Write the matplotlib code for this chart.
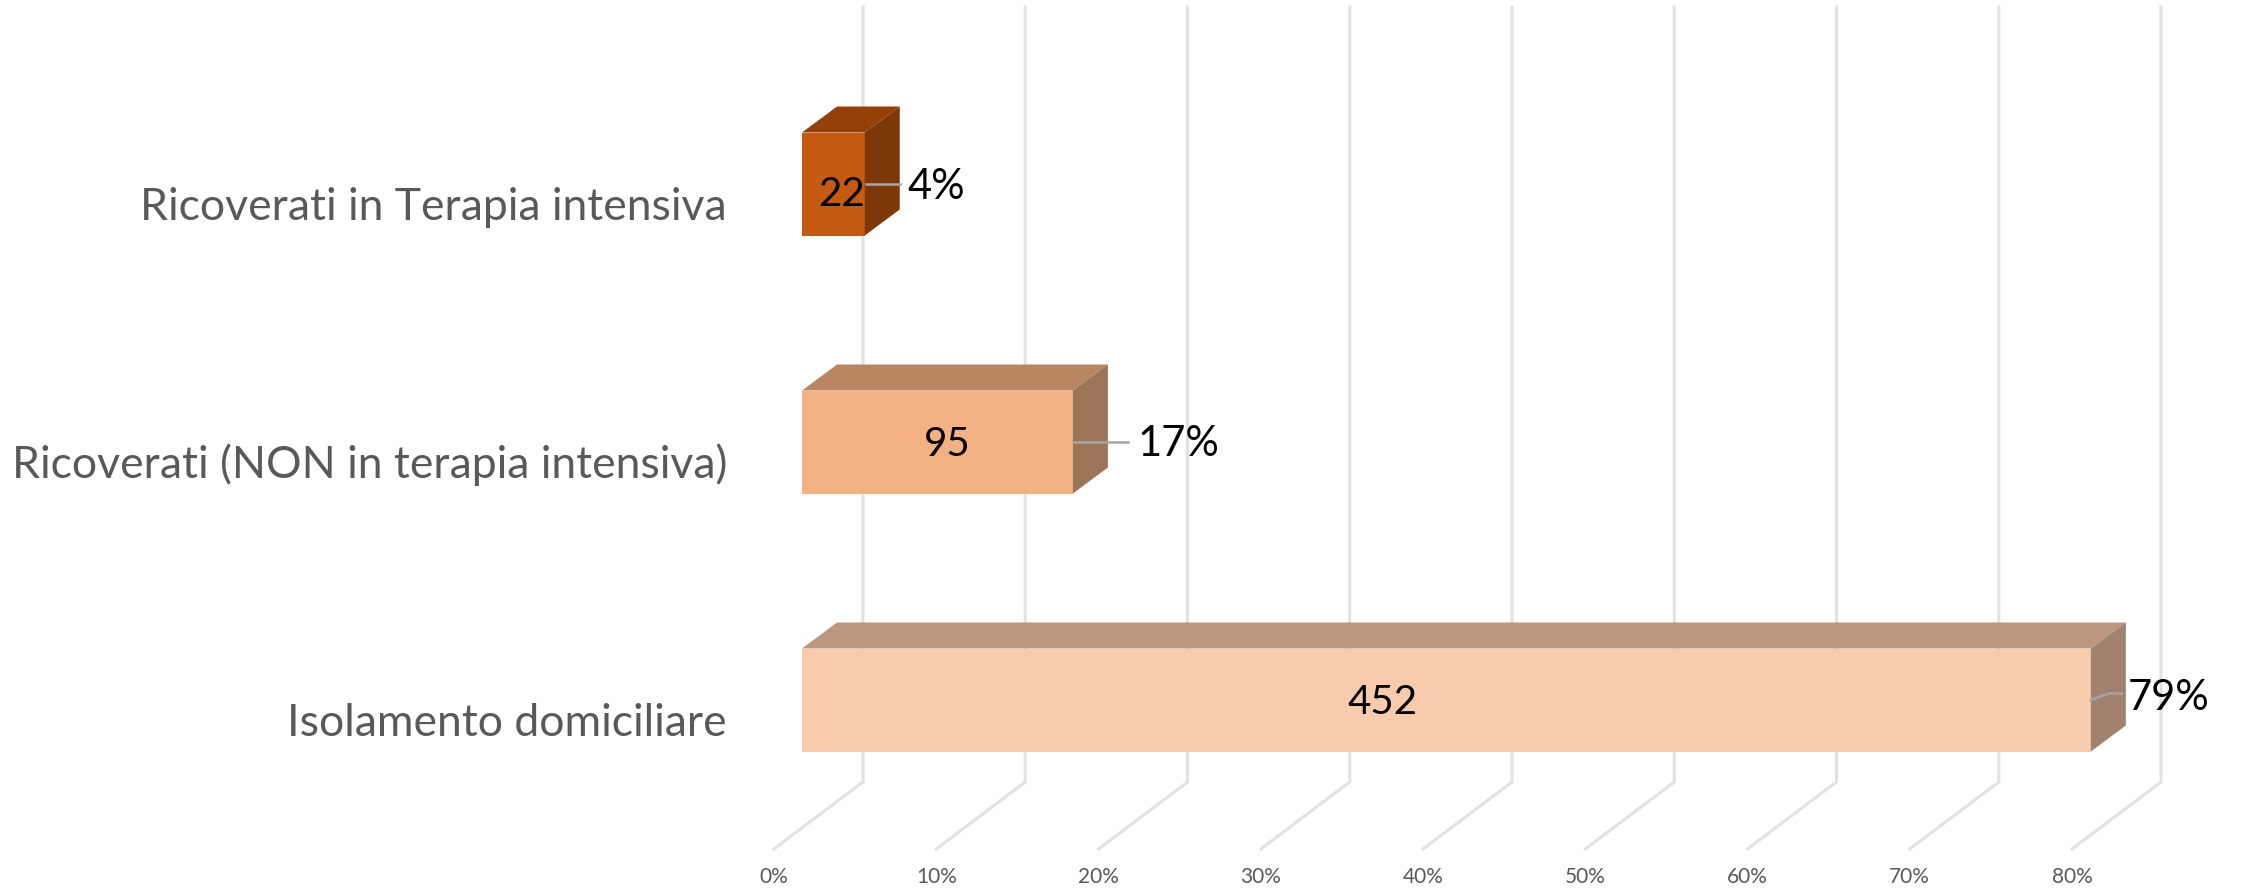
import matplotlib
matplotlib.use('Agg')
import matplotlib.pyplot as plt
from matplotlib.patches import Polygon

# Data (bottom to top)
categories = ['Isolamento domiciliare', 'Ricoverati (NON in terapia intensiva)', 'Ricoverati in Terapia intensiva']
counts = [452, 95, 22]
axis_ticks = [0, 10, 20, 30, 40, 50, 60, 70, 80]

front_colors = ['#F8CBAD', '#F4B183', '#C55A11']
top_colors = ['#BC967E', '#B98562', '#964009']
side_colors = ['#A0826E', '#9C7457', '#7E3707']

plt.rcParams['font.family'] = ['Lato', 'DejaVu Sans']

W, H = 2244, 892
px_x = 16.225   # pixels for one percent
px_y = 258.0    # pixels between two categories
x0_px, y0_px = 802, 700  # where 0% / first category sit in the picture

fig = plt.figure(figsize=(W / 100, H / 100), dpi=100)
ax = fig.add_axes([0, 0, 1, 1])
ax.set_xlim(-x0_px / px_x, (W - x0_px) / px_x)
ax.set_ylim(-(H - y0_px) / px_y, y0_px / px_y)
ax.axis('off')

bar_h = 103 / px_y
dx = 35 / px_x      # depth of the bars
dy = 26 / px_y
wall_dx = 61 / px_x   # back wall, relative to the bars front plane
floor_dx = -28 / px_x
floor_y = -149 / px_y
wall_y = -82 / px_y
top_y = 693 / px_y

# Gridlines on back wall and floor
for t in axis_ticks:
    ax.plot([t + floor_dx, t + wall_dx, t + wall_dx], [floor_y, wall_y, top_y],
            color='#E2E2E2', lw=2.2, solid_joinstyle='miter', zorder=1)
    ax.text(t + floor_dx, -177 / px_y, f'{t}%', ha='center', va='center',
            fontsize=15, color='#595959')

total = sum(counts)
shares = [c / total * 100 for c in counts]

# where the percent label and its leader go, in pixels from the bar end
leader_px = [[(0, 0), (18, 6.5), (31, 6.5)], [(0, 0), (55, 0)], [(1, 0), (35, 0)]]
pct_offset_px = [78, 106, 72]
pct_rise_px = [2, -2, -3]
# shift of the count from the middle of the bar, in pixels
count_shift_px = [-64, 10, 8]
count_rise_px = [-3, -3, -11]

for i, (cat, c, s) in enumerate(zip(categories, counts, shares)):
    y_low, y_high = i - bar_h / 2, i + bar_h / 2
    ax.add_patch(Polygon([(0, y_low), (s, y_low), (s, y_high), (0, y_high)],
                         facecolor=front_colors[i], edgecolor='none', zorder=3))
    ax.add_patch(Polygon([(0, y_high), (s, y_high), (s + dx, y_high + dy), (dx, y_high + dy)],
                         facecolor=top_colors[i], edgecolor='none', zorder=3))
    ax.add_patch(Polygon([(s, y_low), (s, y_high), (s + dx, y_high + dy), (s + dx, y_low + dy)],
                         facecolor=side_colors[i], edgecolor='none', zorder=3))

    ax.text(-75 / px_x, i - 23 / px_y, cat, ha='right', va='center', fontsize=32, color='#595959')

    # count in the middle of the bar
    ax.text(s / 2 + count_shift_px[i] / px_x, i + count_rise_px[i] / px_y, str(c), ha='center', va='center',
            fontsize=29, color='black', zorder=5)

    # leader + percent
    lx = [s + p[0] / px_x for p in leader_px[i]]
    ly = [i + p[1] / px_y for p in leader_px[i]]
    ax.plot(lx, ly, color='#A6A6A6', lw=1.8, zorder=4)
    ax.text(s + pct_offset_px[i] / px_x, i + pct_rise_px[i] / px_y, f'{s:.0f}%', ha='center', va='center',
            fontsize=30, color='black', zorder=5)

fig.savefig('out.png', dpi=100, facecolor='white')
